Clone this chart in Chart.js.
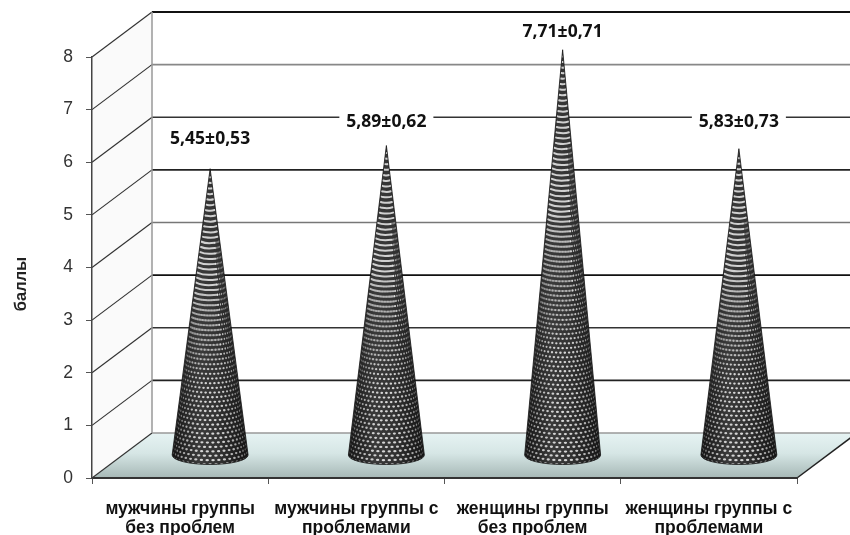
<!DOCTYPE html>
<html>
<head>
<meta charset="utf-8">
<style>
  html, body { margin: 0; padding: 0; background: #fff; }
</style>
<script src="https://cdn.jsdelivr.net/npm/chart.js@4"></script>
</head>
<body>
<canvas id="myChart" width="850" height="535"></canvas>
<script>
const categories = [
  ['мужчины группы', 'без проблем'],
  ['мужчины группы с', 'проблемами'],
  ['женщины группы', 'без проблем'],
  ['женщины группы с', 'проблемами'],
];
const means = [5.45, 5.89, 7.71, 5.83];
const errors = [0.53, 0.62, 0.71, 0.73];
const yTicks = [0, 1, 2, 3, 4, 5, 6, 7, 8];
const axisTitle = 'баллы';

// how far the back wall sits from the front axes
const DEPTH = { x: 60, y: -45 };
// gap between a cone's tip and the middle of its label
const labelLift = [30, 24, 18, 27];
const gridColors = ['#999', '#222', '#333', '#111', '#777', '#222', '#333', '#888', '#111'];

function fmt(n) {
  return n.toFixed(2).replace('.', ',');
}

function drawWalls(chart) {
  const { ctx, chartArea: a } = chart;
  const yScale = chart.scales.y;
  const dx = DEPTH.x, dy = DEPTH.y;
  ctx.save();

  // left wall
  ctx.fillStyle = '#fafafa';
  ctx.beginPath();
  ctx.moveTo(a.left, a.top);
  ctx.lineTo(a.left + dx, a.top + dy);
  ctx.lineTo(a.left + dx, a.bottom + dy);
  ctx.lineTo(a.left, a.bottom);
  ctx.closePath();
  ctx.fill();

  // floor
  const floor = ctx.createLinearGradient(0, a.bottom + dy, 0, a.bottom);
  floor.addColorStop(0, '#e6f3f3');
  floor.addColorStop(0.45, '#d6e6e5');
  floor.addColorStop(1, '#a6b8b6');
  ctx.fillStyle = floor;
  ctx.beginPath();
  ctx.moveTo(a.left, a.bottom);
  ctx.lineTo(a.left + dx, a.bottom + dy);
  ctx.lineTo(a.right + dx, a.bottom + dy);
  ctx.lineTo(a.right, a.bottom);
  ctx.closePath();
  ctx.fill();

  // grid: along the side wall, then along the back
  yTicks.forEach((t, i) => {
    const y = yScale.getPixelForValue(t);
    ctx.strokeStyle = '#333';
    ctx.lineWidth = 1.2;
    ctx.beginPath();
    ctx.moveTo(a.left, y);
    ctx.lineTo(a.left + dx, y + dy);
    ctx.stroke();

    ctx.strokeStyle = gridColors[i];
    ctx.lineWidth = i === 8 ? 2 : 1.7;
    ctx.beginPath();
    ctx.moveTo(a.left + dx, y + dy);
    ctx.lineTo(a.right + dx, y + dy);
    ctx.stroke();
  });

  ctx.strokeStyle = '#999';
  ctx.lineWidth = 1.5;
  ctx.beginPath();
  ctx.moveTo(a.left + dx, a.top + dy);
  ctx.lineTo(a.left + dx, a.bottom + dy);
  ctx.stroke();

  // right edge of the floor
  ctx.strokeStyle = '#222';
  ctx.beginPath();
  ctx.moveTo(a.right, a.bottom);
  ctx.lineTo(a.right + dx, a.bottom + dy);
  ctx.stroke();
  ctx.restore();
}

function hole(ctx, x, y, rx, ry, alpha) {
  ctx.fillStyle = `rgba(238,238,238,${alpha})`;
  ctx.beginPath();
  ctx.ellipse(x, y, rx, ry, 0, 0, 2 * Math.PI);
  ctx.fill();
}

function drawCone(ctx, cx, tipY, baseY, r) {
  const squash = 0.25;
  const outline = () => {
    ctx.beginPath();
    ctx.moveTo(cx, tipY);
    ctx.lineTo(cx + r, baseY);
    ctx.ellipse(cx, baseY, r, r * squash, 0, 0, Math.PI);
    ctx.closePath();
  };

  ctx.save();
  outline();
  ctx.clip();

  const body = ctx.createLinearGradient(cx - r, 0, cx + r, 0);
  body.addColorStop(0, '#141414');
  body.addColorStop(0.35, '#3a3a3a');
  body.addColorStop(0.6, '#333');
  body.addColorStop(1, '#141414');
  ctx.fillStyle = body;
  ctx.fillRect(cx - r - 1, tipY, 2 * r + 2, baseY - tipY + r);

  // woven mesh: staggered rows of holes wrapped round the cone,
  // closing up into curved rungs where the cone gets narrow
  const holes = 20;
  const step = Math.PI / holes;
  const height = baseY - tipY;
  let y = baseY;
  ctx.lineCap = 'round';
  for (let row = 0; baseY - y < height - 5; row++) {
    const t = (baseY - y) / height;
    const rr = r * (1 - t);
    const sag = rr * squash;
    const rung = Math.min(Math.max((27 - rr) / 12, 0), 1);

    if (rung > 0) {
      const narrow = rr < 9;
      ctx.strokeStyle = `rgba(235,235,235,${0.85 * rung})`;
      ctx.lineWidth = 2;
      ctx.beginPath();
      ctx.ellipse(cx, y, rr, sag, 0, narrow ? 0.6 : 1.1, narrow ? 2.5 : 2.75);
      ctx.stroke();
    }
    if (rr >= 9) {
      const phase = row % 2 ? step / 2 : 0;
      for (let k = -holes; k <= holes; k++) {
        const th = k * step + phase;
        if (Math.abs(th) >= Math.PI / 2) continue;
        const c = Math.cos(th);
        const fade = th < 0.45 ? 1 - rung : 1;
        hole(ctx, cx + rr * Math.sin(th), y + sag * c, Math.max(rr * step * c * 0.3, 0.4), 1.15, (0.15 + 0.72 * c) * fade);
      }
    }
    y -= 4.2 + 1.3 * t;
  }
  ctx.restore();

  // dark rim keeps the tip visible
  ctx.save();
  outline();
  ctx.strokeStyle = 'rgba(20,20,20,0.8)';
  ctx.lineWidth = 1;
  ctx.stroke();
  ctx.restore();
}

const conePlugin = {
  id: 'cones',
  beforeDraw: drawWalls,
  afterDatasetsDraw(chart) {
    const { ctx } = chart;
    const bars = chart.getDatasetMeta(0).data;
    bars.forEach(bar => {
      drawCone(ctx, bar.x + DEPTH.x / 2, bar.y + DEPTH.y / 2, bar.base + DEPTH.y / 2, bar.width / 2);
    });

    // value labels sit on white boxes that break the grid lines
    ctx.save();
    ctx.font = 'bold 17.5px "Open Sans"';
    ctx.textAlign = 'center';
    ctx.textBaseline = 'middle';
    bars.forEach((bar, i) => {
      const text = fmt(means[i]) + '±' + fmt(errors[i]);
      const x = bar.x + DEPTH.x / 2;
      const y = bar.y + DEPTH.y / 2 - labelLift[i];
      const w = ctx.measureText(text).width + 14;
      ctx.fillStyle = '#fff';
      ctx.fillRect(x - w / 2, y - 13, w, 26);
      ctx.fillStyle = '#111';
      ctx.fillText(text, x, y);
    });

    ctx.font = 'bold 16.5px "Liberation Sans"';
    ctx.fillStyle = '#222';
    ctx.translate(21, 284);
    ctx.rotate(-Math.PI / 2);
    ctx.fillText(axisTitle, 0, 0);
    ctx.restore();
  },
};

new Chart(document.getElementById('myChart').getContext('2d'), {
  type: 'bar',
  plugins: [conePlugin],
  data: {
    labels: categories,
    datasets: [{
      data: means,
      backgroundColor: 'rgba(0,0,0,0)',
      barPercentage: 0.431,
      categoryPercentage: 1,
    }],
  },
  options: {
    responsive: false,
    animation: false,
    layout: { padding: { top: 57, right: 53 } },
    plugins: { legend: { display: false }, tooltip: { enabled: false } },
    scales: {
      x: {
        afterFit(scale) { scale.height = 57; },
        grid: { color: '#555', drawOnChartArea: false, tickLength: 6 },
        border: { color: '#333', width: 2 },
        ticks: {
          color: '#111',
          padding: 15.5,
          maxRotation: 0,
          autoSkip: false,
          font: { family: '"Liberation Sans"', size: 17.5, weight: 'bold', lineHeight: 1.1 },
        },
      },
      y: {
        min: 0,
        max: 8,
        afterFit(scale) { scale.width = 92; },
        grid: { color: '#555', drawOnChartArea: false, tickLength: 6 },
        border: { color: '#444', width: 1.5 },
        ticks: {
          stepSize: 1,
          color: '#333',
          padding: 13,
          font: { family: '"Liberation Sans"', size: 17.5 },
        },
      },
    },
  },
});
</script>
</body>
</html>
